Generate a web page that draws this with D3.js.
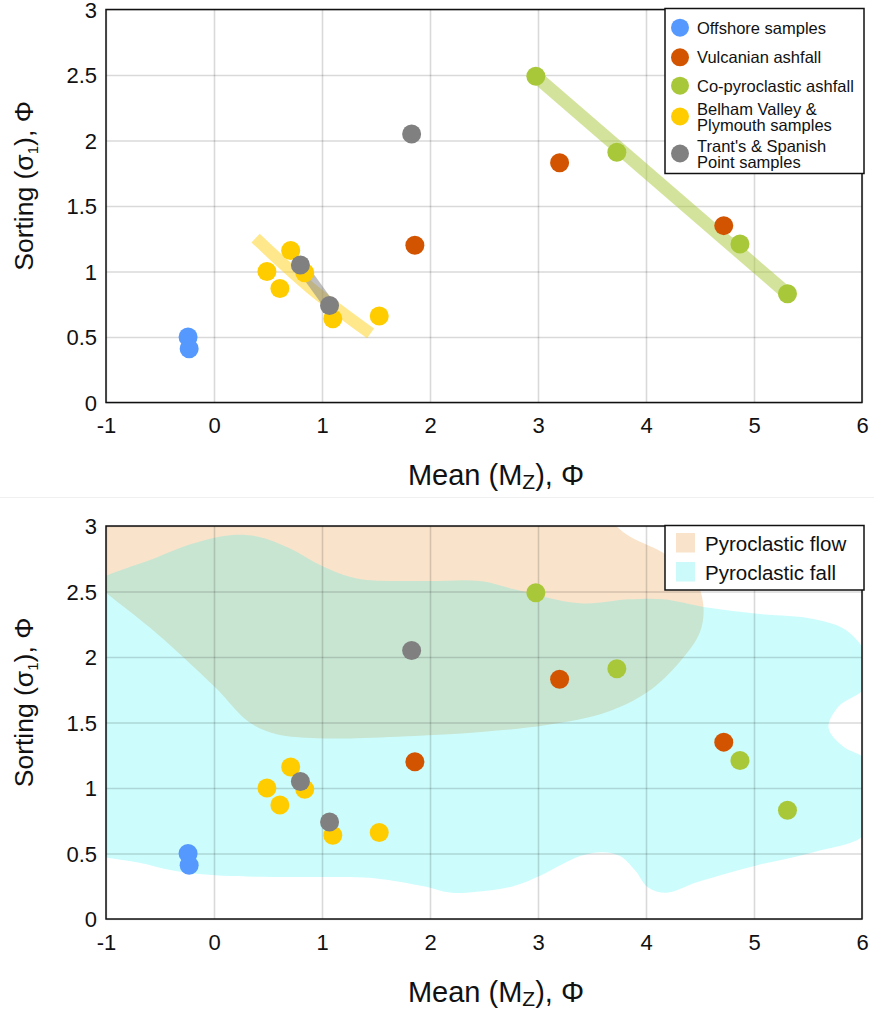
<!DOCTYPE html>
<html>
<head>
<meta charset="utf-8">
<script src="https://cdn.jsdelivr.net/npm/d3@7"></script>
<style>
  html, body { margin: 0; padding: 0; background: #fff; }
  svg { display: block; font-family: "Liberation Sans", Arial, sans-serif; }
</style>
</head>
<body>
<svg id="chart" width="874" height="1012"></svg>
<script>
// ---------------- DATA ----------------
const xTicks = [-1, 0, 1, 2, 3, 4, 5, 6];
const yTicks = [0, 0.5, 1, 1.5, 2, 2.5, 3];
const xTickLabels = ["-1", "0", "1", "2", "3", "4", "5", "6"];
const yTickLabels = ["0", "0.5", "1", "1.5", "2", "2.5", "3"];

const seriesNames = ["Offshore samples", "Vulcanian ashfall", "Co-pyroclastic ashfall",
                     "Belham Valley & Plymouth samples", "Trant's & Spanish Point samples"];
const seriesLegendLines = [["Offshore samples"], ["Vulcanian ashfall"], ["Co-pyroclastic ashfall"],
                           ["Belham Valley &", "Plymouth samples"], ["Trant's & Spanish", "Point samples"]];
const seriesColors = ["#5599ff", "#d35400", "#a8c83a", "#ffcc00", "#808080"];

const offshoreX = [-0.24, -0.23];
const offshoreY = [0.50, 0.41];
const vulcanianX = [1.86, 3.20, 4.72];
const vulcanianY = [1.20, 1.83, 1.35];
const coPyroX = [2.98, 3.73, 4.87, 5.31];
const coPyroY = [2.49, 1.91, 1.21, 0.83];
const belhamX = [0.49, 0.71, 0.61, 0.84, 1.10, 1.53];
const belhamY = [1.00, 1.16, 0.87, 0.99, 0.64, 0.66];
const trantsX = [0.80, 1.07, 1.83];
const trantsY = [1.05, 0.74, 2.05];

// trend lines (top panel)
const coPyroTrendX = [2.98, 5.31];
const coPyroTrendY = [2.49, 0.83];
const belhamTrendX = [0.385, 0.90, 1.45];
const belhamTrendY = [1.255, 0.87, 0.528];
const trantsTrendX = [0.80, 1.07];
const trantsTrendY = [1.05, 0.74];

// field regions (bottom panel), outlines in data units
const regionNames = ["Pyroclastic flow", "Pyroclastic fall"];
const regionColors = ["#fae3cb", "#ccf9f9"];
const flowRegionX = [3.55, 3.85, 4.19, 4.45, 4.53, 4.50, 4.31, 4.01, 3.64, 3.08, 2.50, 1.94, 1.32, 0.95, 0.58, 0.33, 0.01, -0.53, -1.00, -1.25, -1.25, 1.0];
const flowRegionY = [3.08, 2.92, 2.78, 2.60, 2.40, 2.19, 1.96, 1.73, 1.58, 1.48, 1.43, 1.40, 1.38, 1.38, 1.41, 1.50, 1.77, 2.18, 2.49, 2.66, 3.30, 3.30];
const fallRegionX = [-1.25, -1.00, -0.53, -0.22, 0.15, 0.40, 0.70, 1.01, 1.32, 1.94, 2.46, 2.77, 3.39, 3.85, 4.16, 4.55, 5.03, 5.55, 5.86, 6.06, 6.02, 5.78, 5.69, 5.82, 6.04, 6.12, 6.02, 5.55, 5.03, 4.47, 4.19, 4.02, 3.90, 3.76, 3.60, 3.39, 3.02, 2.77, 2.46, 2.20, 1.94, 1.50, 1.01, 0.08, -0.38, -0.69, -1.00, -1.25];
const fallRegionY = [2.52, 2.62, 2.76, 2.86, 2.93, 2.92, 2.83, 2.69, 2.60, 2.58, 2.58, 2.52, 2.41, 2.44, 2.44, 2.38, 2.33, 2.29, 2.20, 1.98, 1.76, 1.62, 1.46, 1.32, 1.21, 0.90, 0.64, 0.51, 0.41, 0.28, 0.20, 0.24, 0.37, 0.48, 0.51, 0.48, 0.33, 0.25, 0.21, 0.20, 0.25, 0.31, 0.32, 0.33, 0.37, 0.43, 0.47, 0.50];

// ---------------- LAYOUT ----------------
const svg = d3.select("#chart");
const plotLeft = 106, plotRight = 862;
const panels = [{ top: 9.5, bottom: 402.5 }, { top: 526, bottom: 919 }];
const x = d3.scaleLinear().domain([-1, 6]).range([plotLeft, plotRight]);

const series = [
  { xs: offshoreX, ys: offshoreY },
  { xs: vulcanianX, ys: vulcanianY },
  { xs: coPyroX, ys: coPyroY },
  { xs: belhamX, ys: belhamY },
  { xs: trantsX, ys: trantsY }
];
const drawOrder = [0, 3, 4, 1, 2];

svg.append("rect").attr("width", 874).attr("height", 1012).attr("fill", "#fff");
svg.append("line").attr("x1", 0).attr("x2", 874).attr("y1", 497.5).attr("y2", 497.5)
   .attr("stroke", "#f0f0f0").attr("stroke-width", 1);

function zip(xs, ys) { return xs.map((v, i) => [v, ys[i]]); }

function drawPanel(pi) {
  const p = panels[pi];
  const y = d3.scaleLinear().domain([0, 3]).range([p.bottom, p.top]);
  const g = svg.append("g");
  const clipId = "clip" + pi;
  svg.append("clipPath").attr("id", clipId).append("rect")
     .attr("x", plotLeft).attr("y", p.top).attr("width", plotRight - plotLeft).attr("height", p.bottom - p.top);

  if (pi === 1) {
    const area = d3.line().x(d => x(d[0])).y(d => y(d[1])).curve(d3.curveCatmullRomClosed.alpha(0.5));
    const rg = g.append("g").attr("clip-path", `url(#${clipId})`);
    rg.append("path").attr("d", area(zip(flowRegionX, flowRegionY))).attr("fill", regionColors[0]);
    rg.append("path").attr("d", area(zip(fallRegionX, fallRegionY))).attr("fill", "rgba(0,238,238,0.2)");
  }

  // grid + axes
  const xAxis = d3.axisBottom(x).tickValues(xTicks).tickSize(-(p.bottom - p.top))
                  .tickPadding(0).tickFormat((d, i) => xTickLabels[i]);
  const gx = g.append("g").attr("transform", `translate(0,${p.bottom})`).call(xAxis);
  gx.select(".domain").remove();
  gx.selectAll("line").attr("stroke", "rgba(0,0,0,0.15)").attr("stroke-width", 1.6);
  gx.selectAll("text").attr("y", 30.5).attr("dy", null).attr("font-size", 22).attr("fill", "#111")
    .attr("font-family", "Liberation Sans, Arial, sans-serif");

  const yAxis = d3.axisLeft(y).tickValues(yTicks).tickSize(-(plotRight - plotLeft))
                  .tickPadding(0).tickFormat((d, i) => yTickLabels[i]);
  const gy = g.append("g").attr("transform", `translate(${plotLeft},0)`).call(yAxis);
  gy.select(".domain").remove();
  gy.selectAll("line").attr("stroke", "rgba(0,0,0,0.15)").attr("stroke-width", 1.6);
  gy.selectAll("text").attr("x", -9).attr("dy", "0.36em").attr("font-size", 22).attr("fill", "#111")
    .attr("font-family", "Liberation Sans, Arial, sans-serif");

  // frame
  g.append("rect").attr("x", plotLeft).attr("y", p.top).attr("width", plotRight - plotLeft)
   .attr("height", p.bottom - p.top).attr("fill", "none").attr("stroke", "#111").attr("stroke-width", 1.5);

  // trend lines
  if (pi === 0) {
    const ln = d3.line().x(d => x(d[0])).y(d => y(d[1]));
    g.append("path").attr("d", ln(zip(coPyroTrendX, coPyroTrendY))).attr("fill", "none")
     .attr("stroke", "rgba(168,200,58,0.5)").attr("stroke-width", 13);
    g.append("path").attr("d", d3.line().x(d => x(d[0])).y(d => y(d[1])).curve(d3.curveNatural)(zip(belhamTrendX, belhamTrendY)))
     .attr("fill", "none").attr("stroke", "rgba(255,204,0,0.45)").attr("stroke-width", 12);
    g.append("path").attr("d", ln(zip(trantsTrendX, trantsTrendY)))
     .attr("fill", "none").attr("stroke", "rgba(128,128,128,0.5)").attr("stroke-width", 11);
  }

  // points
  drawOrder.forEach(si => {
    const s = series[si];
    g.append("g").selectAll("circle").data(zip(s.xs, s.ys)).join("circle")
     .attr("cx", d => x(d[0])).attr("cy", d => y(d[1])).attr("r", 9.5).attr("fill", seriesColors[si]);
  });

  // axis titles
  const off = p.top - panels[0].top;
  const xt = g.append("text").attr("x", 496).attr("y", 485 + off).attr("text-anchor", "middle")
              .attr("font-size", 29).attr("fill", "#111");
  xt.append("tspan").text("Mean (M");
  xt.append("tspan").text("Z").attr("font-size", 21).attr("dy", 4);
  xt.append("tspan").text("), Φ").attr("dy", -4);

  const yt = g.append("text").attr("transform", `translate(33,${186 + off}) rotate(-90)`)
              .attr("text-anchor", "middle").attr("font-size", 26.5).attr("fill", "#111");
  yt.append("tspan").text("Sorting (σ");
  yt.append("tspan").text("1").attr("font-size", 15).attr("dy", 5);
  yt.append("tspan").text("), Φ").attr("dy", -5);

  // legends
  if (pi === 0) {
    const lg = g.append("g");
    lg.append("rect").attr("x", 665).attr("y", 8.5).attr("width", 199).attr("height", 165)
      .attr("fill", "#fff").attr("stroke", "#111").attr("stroke-width", 1.5);
    const cys = [27.7, 57.3, 85.7, 116.5, 153.5];
    seriesLegendLines.forEach((lines, i) => {
      lg.append("circle").attr("cx", 680).attr("cy", cys[i]).attr("r", 9).attr("fill", seriesColors[i]);
      const t = lg.append("text").attr("font-size", 16.5).attr("fill", "#111");
      if (lines.length === 1) {
        t.append("tspan").attr("x", 697).attr("y", cys[i] + 6).text(lines[0]);
      } else {
        t.append("tspan").attr("x", 697).attr("y", cys[i] - 1.5).text(lines[0]);
        t.append("tspan").attr("x", 697).attr("y", cys[i] + 14).text(lines[1]);
      }
    });
  } else {
    const lg = g.append("g");
    lg.append("rect").attr("x", 665).attr("y", 525.5).attr("width", 199).attr("height", 64.5)
      .attr("fill", "#fff").attr("stroke", "#111").attr("stroke-width", 1.5);
    const sy = [533, 562];
    regionNames.forEach((nm, i) => {
      lg.append("rect").attr("x", 676).attr("y", sy[i]).attr("width", 19).attr("height", 19.5)
        .attr("fill", regionColors[i]);
      lg.append("text").attr("x", 705).attr("y", sy[i] + 17.5).attr("font-size", 20.5)
        .attr("fill", "#111").text(nm);
    });
  }
}

drawPanel(0);
drawPanel(1);
</script>
</body>
</html>
